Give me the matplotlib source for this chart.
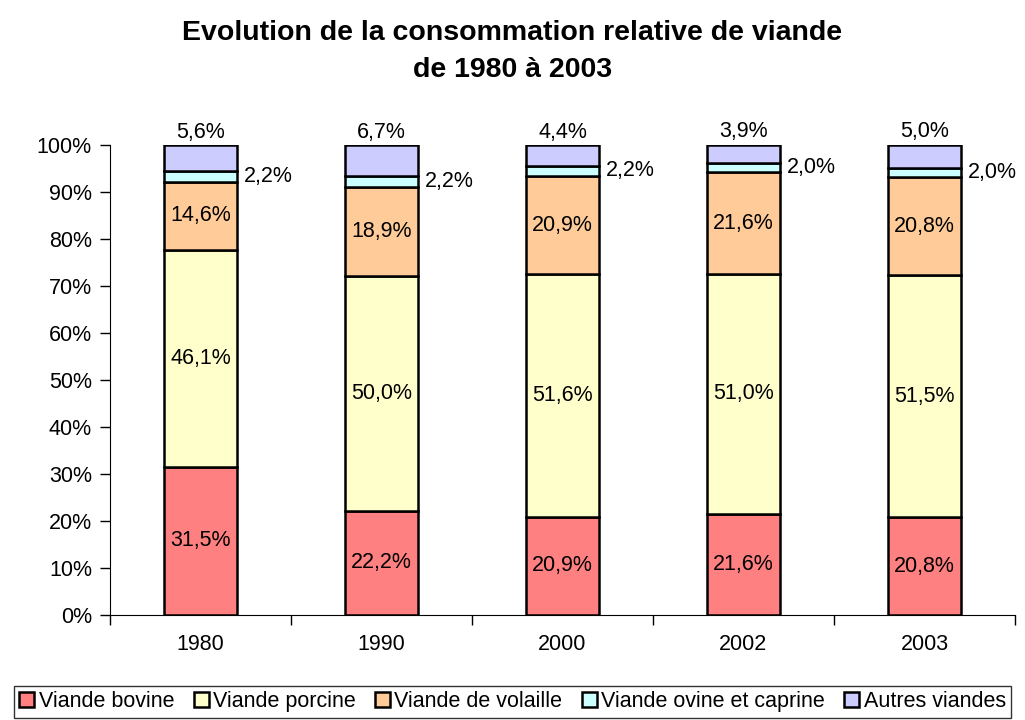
import matplotlib.pyplot as plt
import numpy as np

plt.rcParams['font.family'] = ['Liberation Sans', 'DejaVu Sans']

years = ['1980', '1990', '2000', '2002', '2003']
series = ['Viande bovine', 'Viande porcine', 'Viande de volaille',
          'Viande ovine et caprine', 'Autres viandes']
bovine = [31.5, 22.2, 20.9, 21.6, 20.8]
porcine = [46.1, 50.0, 51.6, 51.0, 51.5]
volaille = [14.6, 18.9, 20.9, 21.6, 20.8]
ovine = [2.2, 2.2, 2.2, 2.0, 2.0]
autres = [5.6, 6.7, 4.4, 3.9, 5.0]
colors = ['#FF8080', '#FFFFCC', '#FFCC99', '#CCFFFF', '#CCCCFF']

data = [bovine, porcine, volaille, ovine, autres]
fs = 15.5

fig = plt.figure(figsize=(10.25, 7.2), dpi=100)
ax = fig.add_axes([0.1073, 0.1458, 0.8829, 0.6528])

x = np.arange(len(years))
bottom = np.zeros(len(years))
width = 0.4
for name, vals, col in zip(series, data, colors):
    vals = np.array(vals)
    ax.bar(x, vals, width, bottom=bottom, color=col, edgecolor='black',
           linewidth=1.8, label=name)
    for i, v in enumerate(vals):
        lab = ('%.1f%%' % v).replace('.', ',')
        if name == 'Viande ovine et caprine':
            ax.text(x[i] + width / 2 + 0.04, bottom[i] + v / 2, lab,
                    ha='left', va='center', fontsize=fs)
        elif name == 'Autres viandes':
            ax.text(x[i], bottom[i] + v + 0.5, lab, ha='center',
                    va='bottom', fontsize=fs)
        else:
            ax.text(x[i], bottom[i] + v / 2, lab, ha='center',
                    va='center', fontsize=fs)
    bottom = bottom + vals

ax.set_xlim(-0.5, len(years) - 0.5)
ax.set_ylim(0, 100)
ax.set_yticks(np.arange(0, 101, 10))
ax.set_yticklabels(['%d%%' % t for t in range(0, 101, 10)], fontsize=fs)
ax.set_xticks(x)
ax.set_xticklabels(years, fontsize=fs)
ax.set_xticks(np.arange(-0.5, len(years)), minor=True)
ax.tick_params(axis='x', which='major', length=0, pad=14)
ax.tick_params(axis='x', which='minor', length=7, width=1)
ax.tick_params(axis='y', length=7, width=1, pad=6)
ax.spines['top'].set_visible(False)
ax.spines['right'].set_visible(False)

fig.text(0.5, 0.972, 'Evolution de la consommation relative de viande\nde 1980 à 2003',
         ha='center', va='top', fontsize=20.5, fontweight='bold',
         linespacing=1.55)

leg = fig.legend(loc='lower center', bbox_to_anchor=(0.5, 0.0), ncol=5,
                 fontsize=fs, frameon=True, fancybox=False, handlelength=0.7,
                 handleheight=0.7, handletextpad=0.2, columnspacing=0.9,
                 borderpad=0.25, borderaxespad=0.1)
leg.get_frame().set_edgecolor('black')
leg.get_frame().set_linewidth(1)

fig.savefig('out.png', dpi=100)
